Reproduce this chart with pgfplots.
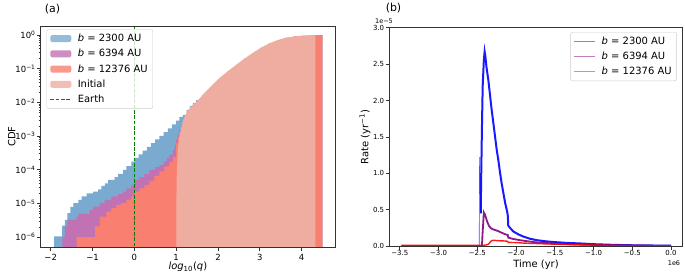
\documentclass[border=0pt]{standalone}
\usepackage{fontspec}
\setmainfont{DejaVu Sans}
\usepackage{pgfplots}
\pgfplotsset{compat=1.18}
\definecolor{cblue}{RGB}{122,170,208}
\definecolor{cpurple}{RGB}{193,114,180}
\definecolor{cred}{RGB}{249,128,112}
\definecolor{cinit}{RGB}{239,173,161}
\definecolor{cearth}{RGB}{0,128,0}
\definecolor{lblue}{RGB}{0,0,255}
\definecolor{lpurple}{RGB}{128,0,128}
\definecolor{lred}{RGB}{255,0,0}
\pgfplotsset{
  mpl/.style={
    scale only axis,
    axis line style={black!80, line width=0.6bp},
    tick style={black!80, line width=0.6bp},
    tick align=outside,
    major tick length=3.5bp,
    minor tick length=2bp,
    xtick pos=bottom, ytick pos=left,
    label style={font=\fontsize{10}{12}\selectfont},
    legend style={draw=black!20, rounded corners=2bp, fill=white, fill opacity=0.8, text opacity=1,
      font=\fontsize{10}{12}\selectfont, inner xsep=3bp, inner ysep=2.5bp, row sep=2.2bp,
      /tikz/every odd column/.append style={column sep=4bp}},
    legend cell align=left,
  },
  patchleg/.style={legend image code/.code={\fill[##1] (0bp,-3.5bp) rectangle (21bp,3.5bp);}},
  lineleg/.style={legend image code/.code={\draw[##1] (0bp,0bp) -- (21bp,0bp);}},
}
\begin{document}
\begin{tikzpicture}
\path[use as bounding box] (0bp,0bp) rectangle (685bp,276bp);
% ---------------- (a) ----------------
\begin{axis}[mpl, at={(40.7bp,29bp)}, anchor=south west,
  width=294.3bp, height=221bp,
  axis on top,
  xmin=-2.24, xmax=4.8,
  ymode=log, ymin=5.1e-7, ymax=1.86,
  xtick={-2,-1,0,1,2,3,4}, xticklabels={−2,−1,0,1,2,3,4},
  ytick={1e-6,1e-5,1e-4,1e-3,1e-2,1e-1,1},
  yticklabels={10\textsuperscript{−6},10\textsuperscript{−5},10\textsuperscript{−4},10\textsuperscript{−3},10\textsuperscript{−2},10\textsuperscript{−1},10\textsuperscript{0}},
  tick label style={font=\fontsize{8.5}{10}\selectfont},
  yticklabel style={inner xsep=1.5bp},
  xlabel={\textit{log}\textsubscript{10}(\textit{q})},
  ylabel={CDF},
  xlabel style={at={(axis description cs:0.5,-0.0905)}, anchor=center},
  ylabel style={at={(axis description cs:-0.0985,0.5)}, anchor=center},
  legend style={at={(axis description cs:0.02,0.985)}, anchor=north west},
]
\addplot[const plot, fill=cblue, draw=none, patchleg] coordinates {
(-1.92,1e-7) (-1.92,1.05e-6) (-1.73,2.19e-6) (-1.66,3.24e-6) (-1.60,5.13e-6) (-1.53,7.9e-6)
(-1.46,1.02e-5) (-1.34,1.29e-5) (-1.26,1.62e-5) (-1.14,2.0e-5) (-0.985,2.24e-5) (-0.865,2.63e-5)
(-0.786,3.31e-5) (-0.707,3.98e-5) (-0.63,5.01e-5) (-0.47,6.03e-5) (-0.39,7.59e-5) (-0.27,1.0e-4)
(-0.19,1.29e-4) (-0.07,1.74e-4) (0.0,2.24e-4) (0.1,2.88e-4) (0.2,3.72e-4) (0.3,4.79e-4)
(0.4,6.17e-4) (0.5,7.94e-4) (0.6,1.02e-3) (0.7,1.32e-3) (0.8,1.70e-3) (0.9,2.24e-3)
(1.0,2.88e-3) (1.08,3.72e-3) (1.16,4.27e-3) (1.25,6.0e-3) (1.33,7.9e-3) (1.4,9.5e-3) (1.48,1.17e-2)
(1.55,1.26e-2) (1.63,1.66e-2) (1.83,2.95e-2) (2.03,5.25e-2) (2.23,8.32e-2) (2.43,0.129)
(2.62,0.195) (2.82,0.288) (3.02,0.417) (3.22,0.562) (3.42,0.708) (3.62,0.832) (3.82,0.912)
(4.01,0.955) (4.2,0.989) (4.33,1.0) (4.5,1.0) (4.5,1e-7)};
\addlegendentry{\textit{b} = 2300 AU}
\addplot[const plot, fill=cpurple, draw=none, patchleg] coordinates {
(-1.72,1e-7) (-1.72,1.0e-6) (-1.66,2.09e-6) (-1.60,3.24e-6) (-1.38,4.07e-6) (-1.34,4.9e-6)
(-1.07,6.46e-6) (-0.985,8.13e-6) (-0.83,1.02e-5) (-0.71,1.29e-5) (-0.55,1.62e-5) (-0.39,1.91e-5)
(-0.27,2.24e-5) (-0.19,2.82e-5) (-0.07,3.55e-5) (0.0,5.01e-5) (0.12,6.03e-5) (0.24,7.59e-5)
(0.36,1.0e-4) (0.5,1.2e-4) (0.6,1.38e-4) (0.7,1.78e-4) (0.78,2.24e-4) (0.84,2.75e-4)
(0.92,3.98e-4) (0.97,5.5e-4) (1.0,7.76e-4) (1.04,1.12e-3) (1.08,1.51e-3) (1.12,2.0e-3)
(1.16,2.63e-3) (1.2,3.39e-3) (1.24,3.9e-3) (1.32,5.6e-3) (1.4,8.0e-3) (1.48,1.0e-2)
(1.55,1.26e-2) (1.63,1.66e-2) (1.83,2.95e-2) (2.03,5.25e-2) (2.23,8.32e-2) (2.43,0.129)
(2.62,0.195) (2.82,0.288) (3.02,0.417) (3.22,0.562) (3.42,0.708) (3.62,0.832) (3.82,0.912)
(4.01,0.955) (4.2,0.989) (4.33,1.0) (4.5,1.0) (4.5,1e-7)};
\addlegendentry{\textit{b} = 6394 AU}
\addplot[const plot, fill=cred, draw=none, patchleg] coordinates {
(-1.38,1e-7) (-1.38,1.0e-6) (-0.94,2.09e-6) (-0.83,4.07e-6) (-0.67,5.75e-6) (-0.55,7.24e-6)
(-0.43,9.12e-6) (-0.31,1.02e-5) (-0.19,1.29e-5) (-0.07,1.62e-5) (0.0,2.24e-5) (0.12,2.82e-5)
(0.24,3.55e-5) (0.36,4.79e-5) (0.48,6.61e-5) (0.6,8.91e-5) (0.72,1.26e-4) (0.84,1.74e-4)
(0.92,2.4e-4) (1.0,6.31e-4) (1.04,8.91e-4) (1.08,1.23e-3) (1.16,2.0e-3) (1.24,3.02e-3)
(1.32,4.8e-3) (1.4,7.2e-3) (1.48,1.0e-2)
(1.55,1.26e-2) (1.63,1.66e-2) (1.83,2.95e-2) (2.03,5.25e-2) (2.23,8.32e-2) (2.43,0.129)
(2.62,0.195) (2.82,0.288) (3.02,0.417) (3.22,0.562) (3.42,0.708) (3.62,0.832) (3.82,0.912)
(4.01,0.955) (4.2,0.989) (4.33,1.0) (4.5,1.0) (4.5,1e-7)};
\addlegendentry{\textit{b} = 12376 AU}
\addplot[sharp plot, fill=cinit, draw=none, patchleg] coordinates {
(1.0,1e-7) (1.01,5e-5) (1.04,4e-4) (1.08,1e-3) (1.16,2.82e-3) (1.27,5.62e-3) (1.4,8.51e-3)
(1.55,1.26e-2) (1.63,1.66e-2) (1.83,2.95e-2) (2.03,5.25e-2) (2.23,8.32e-2) (2.43,0.129)
(2.62,0.195) (2.82,0.288) (3.02,0.417) (3.22,0.562) (3.42,0.708) (3.62,0.832) (3.82,0.912)
(4.01,0.955) (4.2,0.989) (4.33,1.0) (4.33,1e-7)};
\addlegendentry{Initial}
\addplot[sharp plot, cearth, line width=1bp, dash pattern=on 3.7bp off 1.6bp, lineleg] coordinates {(0,1e-8) (0,10)};
\addlegendentry{Earth}
\end{axis}
% ---------------- (b) ----------------
\begin{axis}[mpl, at={(389.3bp,30bp)}, anchor=south west,
  width=293.4bp, height=218.3bp,
  xmin=-3.635, xmax=0.151, ymin=0, ymax=3.0,
  xtick={-3.5,-3,-2.5,-2,-1.5,-1,-0.5,0},
  xticklabels={−3.5,−3.0,−2.5,−2.0,−1.5,−1.0,−0.5,0.0},
  ytick={0,0.5,1,1.5,2,2.5,3},
  yticklabels={0.0,0.5,1.0,1.5,2.0,2.5,3.0},
  tick label style={font=\fontsize{7}{8}\selectfont},
  xticklabel style={inner ysep=0.8bp},
  yticklabel style={inner xsep=1.5bp},
  xlabel={Time (yr)},
  ylabel={Rate (yr\textsuperscript{−1})},
  xlabel style={at={(axis description cs:0.5,-0.084)}, anchor=center},
  ylabel style={at={(axis description cs:-0.0828,0.5)}, anchor=center},
  legend style={at={(axis description cs:0.98,0.98)}, anchor=north east},
]
\addlegendimage{lineleg, lblue, opacity=0.5, line width=1bp}
\addlegendentry{\textit{b} = 2300 AU}
\addlegendimage{lineleg, lpurple, opacity=0.5, line width=1bp}
\addlegendentry{\textit{b} = 6394 AU}
\addlegendimage{lineleg, lred, opacity=0.5, line width=1bp}
\addlegendentry{\textit{b} = 12376 AU}
\addplot[lblue!70, line width=0.6bp, forget plot] coordinates {
(-3.48,0) (-2.48,0) (-2.475,0.02) (-2.47,1.22) (-2.465,0.9) (-2.455,0.45)};
\addplot[lblue, line width=2bp, opacity=0.9, forget plot] coordinates {
(-2.455,0.45) (-2.45,0.9) (-2.44,1.6) (-2.43,2.2) (-2.415,2.55) (-2.405,2.67) (-2.395,2.6)
(-2.38,2.45) (-2.357,2.28) (-2.335,2.07) (-2.314,1.87) (-2.29,1.67) (-2.27,1.50) (-2.25,1.33)
(-2.228,1.18) (-2.205,1.0) (-2.185,0.86) (-2.16,0.71) (-2.14,0.59) (-2.12,0.50) (-2.107,0.43)
(-2.10,0.28) (-2.07,0.24) (-2.035,0.20) (-1.97,0.16) (-1.906,0.13) (-1.82,0.10) (-1.733,0.08)
(-1.62,0.065) (-1.52,0.055) (-1.35,0.043) (-1.17,0.035) (-1.0,0.025) (-0.75,0.016) (-0.5,0.01)
(-0.25,0.007) (0,0.005)};
\addplot[lpurple, line width=1.8bp, opacity=0.9, forget plot] coordinates {
(-3.48,0) (-2.44,0) (-2.43,0.2) (-2.415,0.46) (-2.40,0.43) (-2.385,0.38) (-2.37,0.33) (-2.35,0.28)
(-2.33,0.25) (-2.30,0.23) (-2.27,0.22) (-2.23,0.205) (-2.2,0.19) (-2.16,0.17) (-2.12,0.155)
(-2.105,0.15) (-2.10,0.115) (-2.05,0.10) (-2.0,0.09) (-1.95,0.08) (-1.85,0.065) (-1.74,0.05)
(-1.6,0.04) (-1.5,0.032) (-1.25,0.022) (-1.0,0.015) (-0.75,0.01) (-0.5,0.006) (-0.25,0.004) (0,0.003)};
\addplot[lred, line width=1.4bp, opacity=0.9, forget plot] coordinates {
(-3.48,0.01) (-2.8,0.01) (-2.42,0.01) (-2.38,0.015) (-2.35,0.03) (-2.33,0.06) (-2.31,0.075)
(-2.28,0.078) (-2.22,0.072) (-2.16,0.07) (-2.11,0.065) (-2.10,0.05) (-2.0,0.047) (-1.9,0.04)
(-1.7,0.032) (-1.5,0.025) (-1.25,0.018) (-1.0,0.012) (-0.75,0.008) (-0.5,0.005) (-0.25,0.004) (0,0.003)};
\end{axis}
% panel letters and offset texts
\node[font=\fontsize{11}{13}\selectfont] at (52.5bp,267bp) {(a)};
\node[font=\fontsize{11}{13}\selectfont] at (393.5bp,268bp) {(b)};
\node[font=\fontsize{6.5}{8}\selectfont] at (384bp,254.5bp) {1e−5};
\node[font=\fontsize{6.5}{8}\selectfont] at (674bp,13bp) {1e6};
\end{tikzpicture}
\end{document}
